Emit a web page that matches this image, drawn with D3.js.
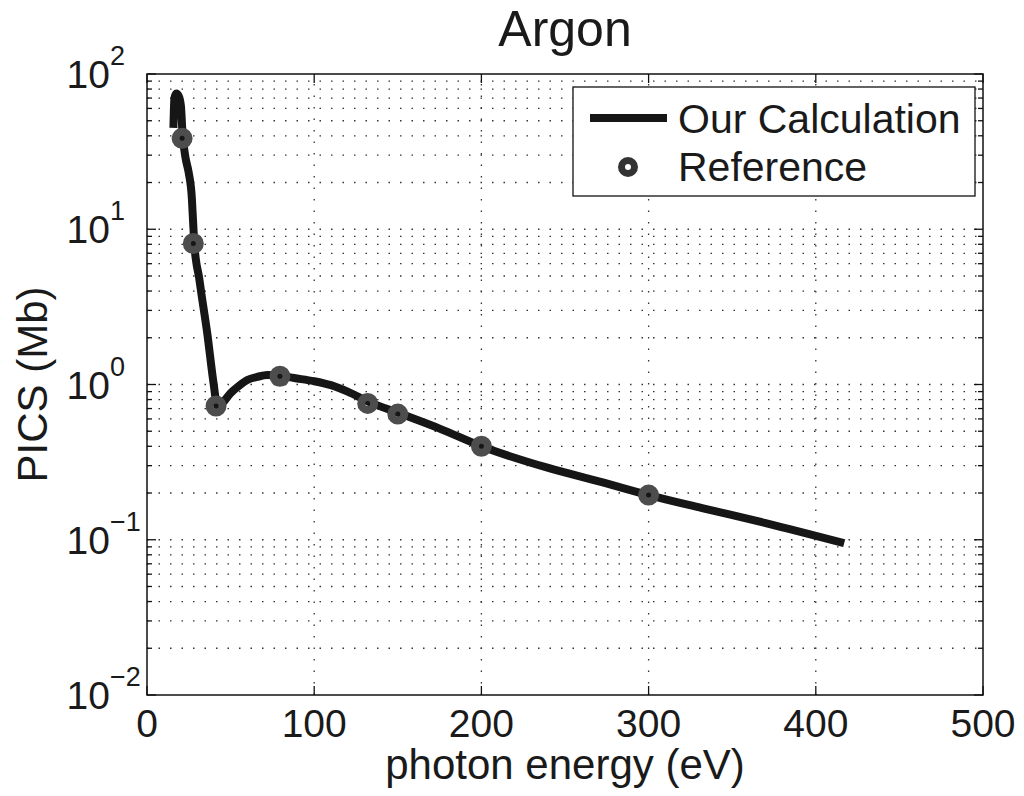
<!DOCTYPE html>
<html>
<head>
<meta charset="utf-8">
<script src="https://cdn.jsdelivr.net/npm/d3@7"></script>
<style>
  body { margin: 0; background: #fff; }
  text { font-family: "Liberation Sans", Arial, sans-serif; fill: #1a1a1a; }
</style>
</head>
<body>
<div id="chart"></div>
<script>
// calculated curve (photon energy in eV, PICS in Mb)
const energy = [15.8, 16.4, 17.5, 19, 20.3, 21.2, 23, 25, 26.8, 27.6, 28.3, 29.6, 31, 32.6, 36, 39.8, 42, 45, 50, 55, 60, 66, 72, 79, 88, 100, 110, 120, 133, 151, 175, 200, 240, 272, 300, 332, 370, 417];
const pics = [45, 70, 75, 72, 62, 42, 29, 23, 16, 11, 8, 6, 5, 3.8, 2.15, 1.02, 0.73, 0.76, 0.88, 0.98, 1.07, 1.12, 1.15, 1.14, 1.1, 1.05, 0.99, 0.9, 0.77, 0.652, 0.52, 0.40, 0.29, 0.235, 0.194, 0.16, 0.128, 0.095];

// reference points
const refEnergy = [21, 27.7, 41.3, 79.5, 132, 150, 200, 300];
const refPics = [38.5, 8.1, 0.727, 1.13, 0.755, 0.645, 0.40, 0.194];

const xTicks = [0, 100, 200, 300, 400, 500];
const yExps = [-2, -1, 0, 1, 2];

const W = 1024, H = 796;
const pl = 147, pr = 983, pt = 74, pb = 695;

const svg = d3.select("#chart").append("svg")
  .attr("width", W).attr("height", H);

const x = d3.scaleLinear().domain([0, 500]).range([pl, pr]);
const y = d3.scaleLog().domain([1e-2, 1e2]).range([pb, pt]);

// grid
const minorY = [];
yExps.slice(0, -1).forEach(e => {
  for (let k = 1; k <= 9; k++) minorY.push(k * Math.pow(10, e));
});
minorY.push(100);

const grid = svg.append("g")
  .attr("stroke", "#333")
  .attr("stroke-width", 1.3)
  .attr("stroke-dasharray", "1.5,10");

grid.selectAll("line.hy")
  .data(minorY.filter(v => v > 1e-2 * 1.001 && v < 1e2 * 0.999))
  .join("line")
  .attr("x1", pl).attr("x2", pr)
  .attr("y1", d => y(d)).attr("y2", d => y(d));

grid.selectAll("line.vx")
  .data(xTicks.slice(1, -1))
  .join("line")
  .attr("y1", pb).attr("y2", pt)
  .attr("x1", d => x(d)).attr("x2", d => x(d));

// axis box
svg.append("rect")
  .attr("x", pl).attr("y", pt)
  .attr("width", pr - pl).attr("height", pb - pt)
  .attr("fill", "none").attr("stroke", "#111").attr("stroke-width", 1.5);

// ticks (inside, both sides)
const ticks = svg.append("g").attr("stroke", "#111").attr("stroke-width", 1.3);
xTicks.forEach(t => {
  ticks.append("line").attr("x1", x(t)).attr("x2", x(t)).attr("y1", pb).attr("y2", pb - 9);
  ticks.append("line").attr("x1", x(t)).attr("x2", x(t)).attr("y1", pt).attr("y2", pt + 9);
});
minorY.forEach(v => {
  const major = Math.abs(Math.log10(v) - Math.round(Math.log10(v))) < 1e-9;
  const len = major ? 9 : 5;
  ticks.append("line").attr("x1", pl).attr("x2", pl + len).attr("y1", y(v)).attr("y2", y(v));
  ticks.append("line").attr("x1", pr).attr("x2", pr - len).attr("y1", y(v)).attr("y2", y(v));
});

// tick labels
svg.append("g").selectAll("text")
  .data(xTicks)
  .join("text")
  .attr("x", d => x(d)).attr("y", 737)
  .attr("text-anchor", "middle")
  .attr("font-size", 39)
  .text(d => d);

const yl = svg.append("g");
yExps.forEach(e => {
  const py = y(Math.pow(10, e));
  yl.append("text").attr("x", 110).attr("y", py + 14)
    .attr("text-anchor", "end").attr("font-size", 39).text("10");
  yl.append("text").attr("x", 110).attr("y", py - 9)
    .attr("text-anchor", "start").attr("font-size", 27)
    .text(e < 0 ? "\u2212" + Math.abs(e) : e);
});

// axis labels and title
svg.append("text")
  .attr("x", (pl + pr) / 2).attr("y", 779)
  .attr("text-anchor", "middle").attr("font-size", 42)
  .text("photon energy (eV)");

svg.append("text")
  .attr("transform", `translate(47,${(pt + pb) / 2}) rotate(-90)`)
  .attr("text-anchor", "middle").attr("font-size", 42)
  .text("PICS (Mb)");

svg.append("text")
  .attr("x", (pl + pr) / 2).attr("y", 46)
  .attr("text-anchor", "middle").attr("font-size", 50)
  .text("Argon");

// calculated curve
const line = d3.line()
  .x(d => x(d[0]))
  .y(d => y(d[1]))
  .curve(d3.curveMonotoneX);

svg.append("path")
  .datum(energy.map((e, i) => [e, pics[i]]))
  .attr("d", line)
  .attr("fill", "none")
  .attr("stroke", "#161616")
  .attr("stroke-width", 8)
  .attr("stroke-linejoin", "round");

// reference markers
svg.append("g")
  .selectAll("circle")
  .data(refEnergy.map((e, i) => [e, refPics[i]]))
  .join("circle")
  .attr("cx", d => x(d[0]))
  .attr("cy", d => y(d[1]))
  .attr("r", 6.5)
  .attr("fill", "none")
  .attr("stroke", "#4d4d4d")
  .attr("stroke-width", 8);

// legend
const lg = svg.append("g");
lg.append("rect")
  .attr("x", 573).attr("y", 87).attr("width", 402).attr("height", 109)
  .attr("fill", "#fff").attr("stroke", "#111").attr("stroke-width", 1.3);
lg.append("line")
  .attr("x1", 590).attr("x2", 667).attr("y1", 118).attr("y2", 118)
  .attr("stroke", "#161616").attr("stroke-width", 8);
lg.append("circle")
  .attr("cx", 628).attr("cy", 167).attr("r", 6.5)
  .attr("fill", "#fff").attr("stroke", "#333").attr("stroke-width", 7);
lg.append("text").attr("x", 678).attr("y", 133).attr("font-size", 41).text("Our Calculation");
lg.append("text").attr("x", 678).attr("y", 181).attr("font-size", 41).text("Reference");
</script>
</body>
</html>
